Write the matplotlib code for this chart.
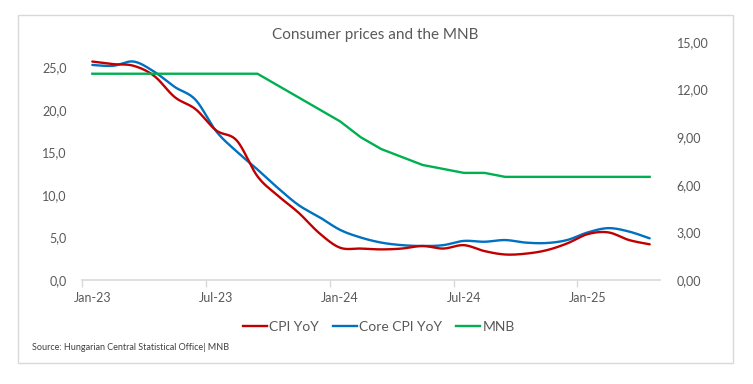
import numpy as np
import matplotlib
matplotlib.use("Agg")
import matplotlib.pyplot as plt
from matplotlib.lines import Line2D
from matplotlib.patches import Rectangle
from matplotlib.ticker import FuncFormatter, FixedLocator

plt.rcParams["font.family"] = ["Lato", "DejaVu Sans"]

# data (monthly, Jan-23 .. Apr-25)
months = ["Jan-23", "Feb-23", "Mar-23", "Apr-23", "May-23", "Jun-23", "Jul-23",
          "Aug-23", "Sep-23", "Oct-23", "Nov-23", "Dec-23", "Jan-24", "Feb-24",
          "Mar-24", "Apr-24", "May-24", "Jun-24", "Jul-24", "Aug-24", "Sep-24",
          "Oct-24", "Nov-24", "Dec-24", "Jan-25", "Feb-25", "Mar-25", "Apr-25"]
cpi_yoy = [25.7, 25.4, 25.2, 24.0, 21.5, 20.1, 17.6, 16.4, 12.2, 9.9, 7.9, 5.5,
           3.8, 3.7, 3.6, 3.7, 4.0, 3.7, 4.1, 3.4, 3.0, 3.1, 3.5, 4.3,
           5.4, 5.6, 4.7, 4.2]
core_cpi_yoy = [25.3, 25.2, 25.7, 24.5, 22.7, 21.2, 17.5, 15.1, 13.0, 10.8, 8.8, 7.4,
                5.9, 5.0, 4.4, 4.1, 4.0, 4.1, 4.6, 4.5, 4.7, 4.4, 4.35, 4.7,
                5.6, 6.1, 5.7, 4.9]
mnb_rate = [13.0, 13.0, 13.0, 13.0, 13.0, 13.0, 13.0, 13.0, 13.0, 12.25, 11.5, 10.75,
            10.0, 9.0, 8.25, 7.75, 7.25, 7.0, 6.75, 6.75, 6.5, 6.5, 6.5, 6.5,
            6.5, 6.5, 6.5, 6.5]
left_ticks = [0, 5, 10, 15, 20, 25]
right_ticks = [0, 3, 6, 9, 12, 15]
label_every = 6

RED = "#c00000"
BLUE = "#0070c0"
GREEN = "#00b050"
GREY_TXT = "#595959"
GREY_LINE = "#d9d9d9"


def smooth(y, n=16):
    # catmull-rom curve through the points, like excel's smoothed line
    y = np.asarray(y, dtype=float)
    x = np.arange(len(y), dtype=float)
    px = np.concatenate([[x[0]], x, [x[-1]]])
    py = np.concatenate([[y[0]], y, [y[-1]]])
    xs, ys = [], []
    t = np.linspace(0, 1, n, endpoint=False)
    for i in range(1, len(px) - 2):
        for p, out in ((px, xs), (py, ys)):
            p0, p1, p2, p3 = p[i - 1], p[i], p[i + 1], p[i + 2]
            out.extend(0.5 * ((2 * p1) + (-p0 + p2) * t
                              + (2 * p0 - 5 * p1 + 4 * p2 - p3) * t ** 2
                              + (-p0 + 3 * p1 - 3 * p2 + p3) * t ** 3))
    xs.append(x[-1])
    ys.append(y[-1])
    return np.array(xs), np.array(ys)


fig = plt.figure(figsize=(7.53, 3.84), dpi=100)
ax = fig.add_axes([82 / 753, 1 - 280 / 384, (660 - 82) / 753, (280 - 42) / 384])

# outer chart border
fig.patches.append(Rectangle((18 / 753, 1 - 363 / 384), (733 - 18) / 753, (363 - 15) / 384,
                             transform=fig.transFigure, fill=False,
                             edgecolor=GREY_LINE, linewidth=1.0))

sx, sy = smooth(core_cpi_yoy)
ax.plot(sx, sy, color=BLUE, lw=1.7, solid_capstyle="round")
sx, sy = smooth(cpi_yoy)
ax.plot(sx, sy, color=RED, lw=1.7, solid_capstyle="round")

ax.set_xlim(-0.5, len(months) - 0.5)
ax.set_ylim(0, 28)
ax.set_yticks(left_ticks)
ax.yaxis.set_major_formatter(FuncFormatter(lambda v, p: f"{v:.1f}".replace(".", ",")))

# ticks between categories, labels at category centers
bounds = [i - 0.5 for i in range(0, len(months), label_every)]
centers = list(range(0, len(months), label_every))
ax.xaxis.set_major_locator(FixedLocator(bounds))
ax.xaxis.set_major_formatter(FuncFormatter(lambda v, p: ""))
ax.xaxis.set_minor_locator(FixedLocator(centers))
ax.xaxis.set_minor_formatter(FuncFormatter(lambda v, p: months[int(round(v))]))
ax.tick_params(axis="x", which="major", length=5, color=GREY_LINE, width=1)
ax.tick_params(axis="x", which="minor", length=0, pad=9, labelsize=9, labelcolor=GREY_TXT)
ax.tick_params(axis="y", length=0, pad=11, labelsize=9, labelcolor=GREY_TXT)

for s in ["top", "left", "right"]:
    ax.spines[s].set_visible(False)
ax.spines["bottom"].set_color(GREY_LINE)
ax.spines["bottom"].set_linewidth(1.2)

ax2 = ax.twinx()
ax2.plot(range(len(mnb_rate)), mnb_rate, color=GREEN, lw=1.7)
ax2.set_ylim(0, 15)
ax2.set_yticks(right_ticks)
ax2.yaxis.set_major_formatter(FuncFormatter(lambda v, p: f"{v:.2f}".replace(".", ",")))
ax2.tick_params(axis="y", length=0, pad=12, labelsize=9, labelcolor=GREY_TXT)
for s in ax2.spines.values():
    s.set_visible(False)

fig.text(375 / 753, 1 - 35 / 384, "Consumer prices and the MNB", ha="center", va="center",
         fontsize=11, color=GREY_TXT)

handles = [Line2D([], [], color=RED, lw=1.7),
           Line2D([], [], color=BLUE, lw=1.7),
           Line2D([], [], color=GREEN, lw=1.7)]
fig.legend(handles, ["CPI YoY", "Core CPI YoY", "MNB"], loc="center",
           bbox_to_anchor=(379 / 753, 1 - 327 / 384), ncol=3, frameon=False,
           fontsize=10, labelcolor=GREY_TXT, handlelength=1.7, handletextpad=0.2,
           columnspacing=1.0)

fig.text(32 / 753, 1 - 347 / 384, "Source: Hungarian Central Statistical Office| MNB",
         ha="left", va="center", fontsize=6.5, color="#404040")

fig.savefig("out.png", dpi=100)
